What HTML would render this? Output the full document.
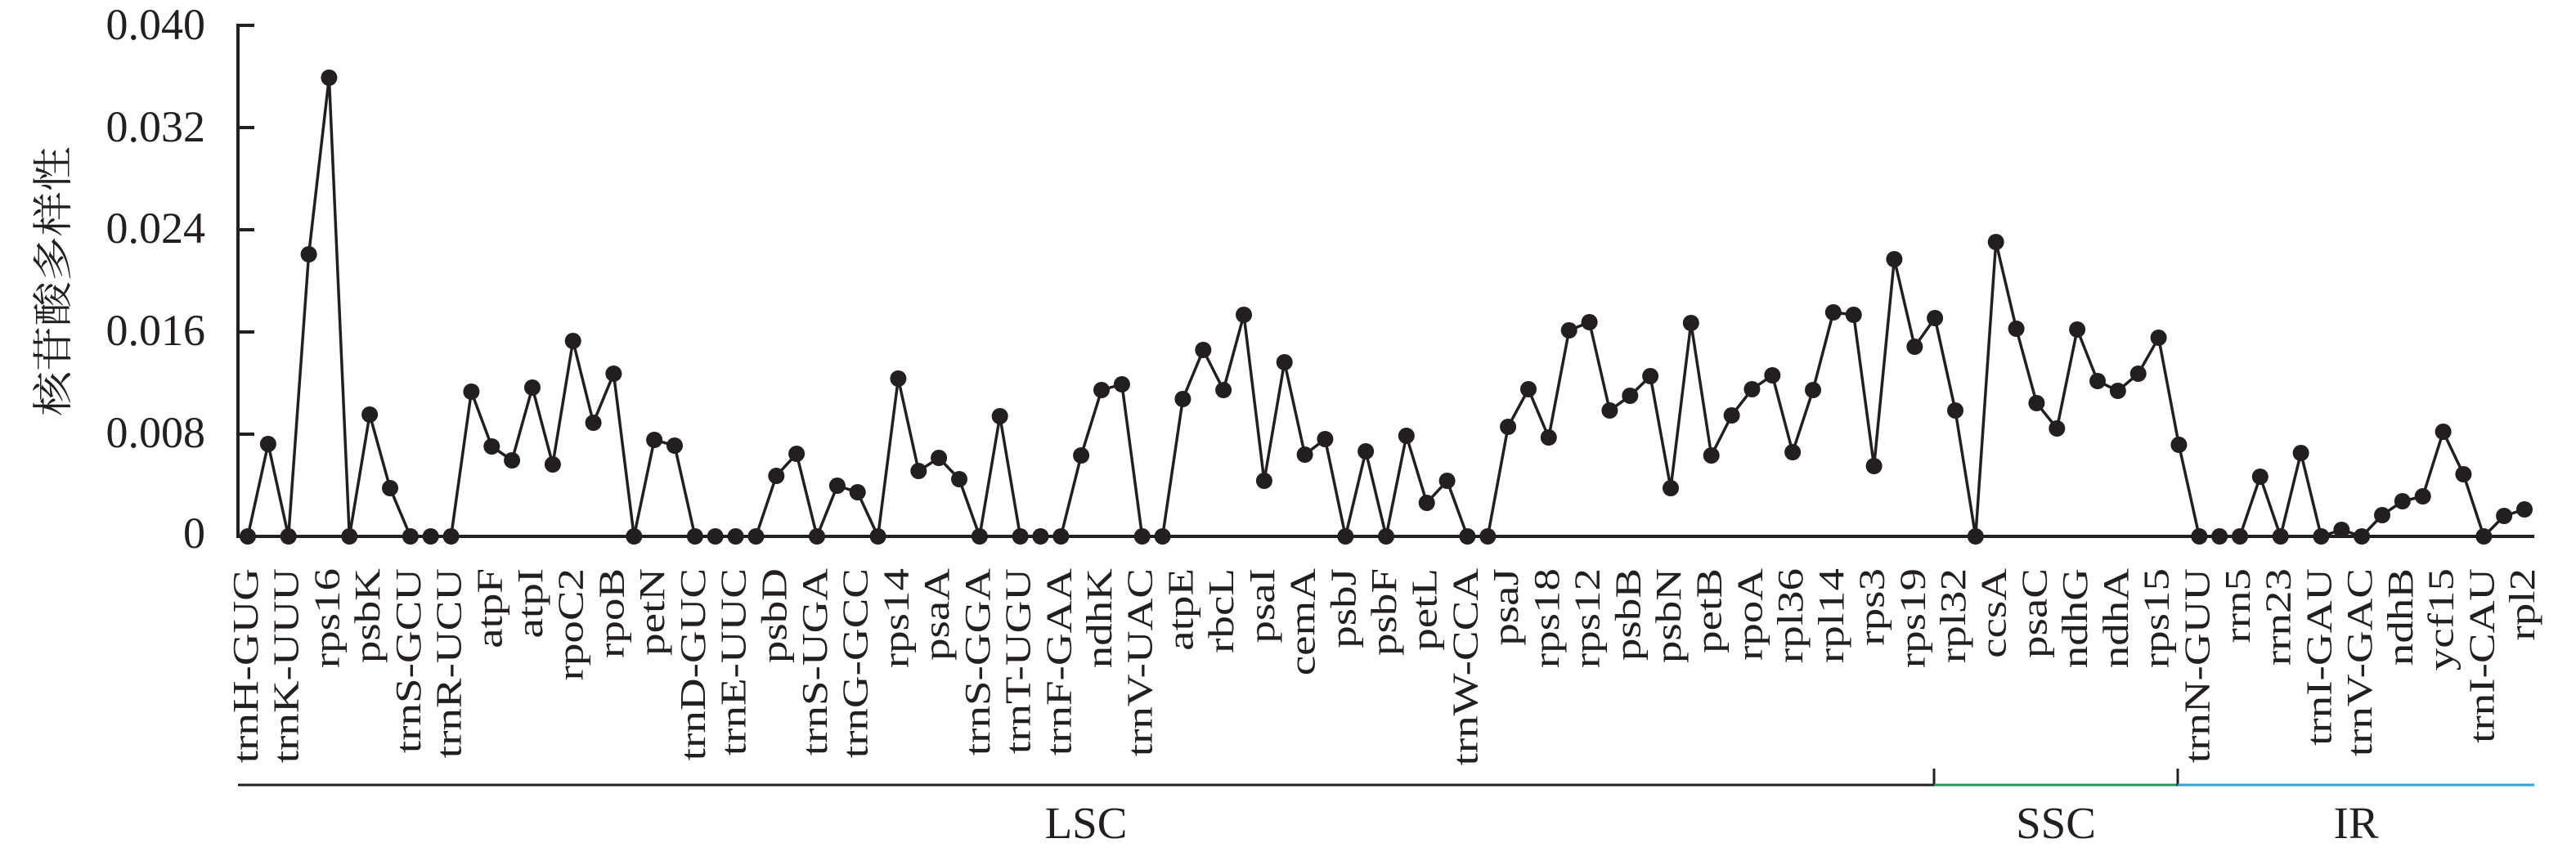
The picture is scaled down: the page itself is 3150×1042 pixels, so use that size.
<!DOCTYPE html>
<html><head><meta charset="utf-8"><style>html,body{margin:0;padding:0;background:#fff}svg{display:block}</style></head>
<body>
<svg width="3150" height="1042" viewBox="0 0 3150 1042" xmlns="http://www.w3.org/2000/svg">
<defs><marker id="m" markerUnits="userSpaceOnUse" markerWidth="24" markerHeight="24" refX="12" refY="12"><circle cx="12" cy="12" r="10" fill="#231f20"/></marker></defs>
<g stroke="#231f20" stroke-width="4" fill="none">
<line x1="291" y1="29" x2="291" y2="658"/>
<line x1="289" y1="656" x2="3099" y2="656"/>
<line x1="291" y1="31" x2="311" y2="31"/><line x1="291" y1="156" x2="311" y2="156"/><line x1="291" y1="281" x2="311" y2="281"/><line x1="291" y1="406" x2="311" y2="406"/><line x1="291" y1="531" x2="311" y2="531"/>
</g>
<g font-family="Liberation Serif, serif" font-size="54" fill="#231f20" text-anchor="end">
<text x="251" y="48">0.040</text><text x="251" y="173">0.032</text><text x="251" y="297">0.024</text><text x="251" y="422">0.016</text><text x="251" y="547">0.008</text><text x="251" y="670">0</text>
</g>
<text transform="translate(82,344) rotate(-90) scale(1,0.9)" font-family="Noto Serif CJK SC, Noto Sans CJK SC, serif" font-size="55" fill="#231f20" text-anchor="middle">核苷酸多样性</text>
<polyline stroke="#231f20" stroke-width="3.5" fill="none" marker-start="url(#m)" marker-mid="url(#m)" marker-end="url(#m)" points="303,656 327.9,543 352.7,656 377.6,311 402.4,95 427.3,656 452.1,507 477,597 501.9,656 526.7,656 551.6,656 576.4,479 601.3,546 626.1,563 651,474 675.9,568 700.7,417 725.6,517 750.4,457 775.3,656 800.1,538 825,545 849.9,656 874.7,656 899.6,656 924.4,656 949.3,582 974.1,555 999,656 1023.9,594 1048.7,602 1073.6,656 1098.4,463 1123.3,576 1148.1,560 1173,586 1197.9,656 1222.7,509 1247.6,656 1272.4,656 1297.3,656 1322.1,557 1347,477 1371.9,470 1396.7,656 1421.6,656 1446.4,488 1471.3,428 1496.1,477 1521,385 1545.9,588 1570.7,443 1595.6,556 1620.4,537 1645.3,656 1670.1,552 1695,656 1719.8,533 1744.7,615 1769.6,588 1794.4,656 1819.3,656 1844.1,522 1869,476 1893.8,535 1918.7,404 1943.6,394 1968.4,502 1993.3,484 2018.1,460 2043,597 2067.8,395 2092.7,557 2117.6,508 2142.4,476 2167.3,459 2192.1,553 2217,477 2241.8,382 2266.7,385 2291.6,570 2316.4,317 2341.3,424 2366.1,389 2391,502 2415.8,656 2440.7,296 2465.6,402 2490.4,493 2515.3,524 2540.1,403 2565,466 2589.8,478 2614.7,457 2639.6,413 2664.4,544 2689.3,656 2714.1,656 2739,656 2763.8,583 2788.7,656 2813.6,554 2838.4,656 2863.3,648 2888.1,656 2913,630 2937.8,613 2962.7,607 2987.6,528 3012.4,580 3037.3,656 3062.1,631 3087,623"/>
<g font-family="Liberation Serif, serif" font-size="55" fill="#231f20" text-anchor="end">
<text transform="translate(315,695) rotate(-90) scale(1,0.8)">trnH-GUG</text>
<text transform="translate(364.7,695) rotate(-90) scale(1,0.8)">trnK-UUU</text>
<text transform="translate(414.4,695) rotate(-90) scale(1,0.8)">rps16</text>
<text transform="translate(464.1,695) rotate(-90) scale(1,0.8)">psbK</text>
<text transform="translate(513.9,695) rotate(-90) scale(1,0.8)">trnS-GCU</text>
<text transform="translate(563.6,695) rotate(-90) scale(1,0.8)">trnR-UCU</text>
<text transform="translate(613.3,695) rotate(-90) scale(1,0.8)">atpF</text>
<text transform="translate(663,695) rotate(-90) scale(1,0.8)">atpI</text>
<text transform="translate(712.7,695) rotate(-90) scale(1,0.8)">rpoC2</text>
<text transform="translate(762.4,695) rotate(-90) scale(1,0.8)">rpoB</text>
<text transform="translate(812.1,695) rotate(-90) scale(1,0.8)">petN</text>
<text transform="translate(861.9,695) rotate(-90) scale(1,0.8)">trnD-GUC</text>
<text transform="translate(911.6,695) rotate(-90) scale(1,0.8)">trnE-UUC</text>
<text transform="translate(961.3,695) rotate(-90) scale(1,0.8)">psbD</text>
<text transform="translate(1011,695) rotate(-90) scale(1,0.8)">trnS-UGA</text>
<text transform="translate(1060.7,695) rotate(-90) scale(1,0.8)">trnG-GCC</text>
<text transform="translate(1110.4,695) rotate(-90) scale(1,0.8)">rps14</text>
<text transform="translate(1160.1,695) rotate(-90) scale(1,0.8)">psaA</text>
<text transform="translate(1209.9,695) rotate(-90) scale(1,0.8)">trnS-GGA</text>
<text transform="translate(1259.6,695) rotate(-90) scale(1,0.8)">trnT-UGU</text>
<text transform="translate(1309.3,695) rotate(-90) scale(1,0.8)">trnF-GAA</text>
<text transform="translate(1359,695) rotate(-90) scale(1,0.8)">ndhK</text>
<text transform="translate(1408.7,695) rotate(-90) scale(1,0.8)">trnV-UAC</text>
<text transform="translate(1458.4,695) rotate(-90) scale(1,0.8)">atpE</text>
<text transform="translate(1508.1,695) rotate(-90) scale(1,0.8)">rbcL</text>
<text transform="translate(1557.9,695) rotate(-90) scale(1,0.8)">psaI</text>
<text transform="translate(1607.6,695) rotate(-90) scale(1,0.8)">cemA</text>
<text transform="translate(1657.3,695) rotate(-90) scale(1,0.8)">psbJ</text>
<text transform="translate(1707,695) rotate(-90) scale(1,0.8)">psbF</text>
<text transform="translate(1756.7,695) rotate(-90) scale(1,0.8)">petL</text>
<text transform="translate(1806.4,695) rotate(-90) scale(1,0.8)">trnW-CCA</text>
<text transform="translate(1856.1,695) rotate(-90) scale(1,0.8)">psaJ</text>
<text transform="translate(1905.8,695) rotate(-90) scale(1,0.8)">rps18</text>
<text transform="translate(1955.6,695) rotate(-90) scale(1,0.8)">rps12</text>
<text transform="translate(2005.3,695) rotate(-90) scale(1,0.8)">psbB</text>
<text transform="translate(2055,695) rotate(-90) scale(1,0.8)">psbN</text>
<text transform="translate(2104.7,695) rotate(-90) scale(1,0.8)">petB</text>
<text transform="translate(2154.4,695) rotate(-90) scale(1,0.8)">rpoA</text>
<text transform="translate(2204.1,695) rotate(-90) scale(1,0.8)">rpl36</text>
<text transform="translate(2253.8,695) rotate(-90) scale(1,0.8)">rpl14</text>
<text transform="translate(2303.6,695) rotate(-90) scale(1,0.8)">rps3</text>
<text transform="translate(2353.3,695) rotate(-90) scale(1,0.8)">rps19</text>
<text transform="translate(2403,695) rotate(-90) scale(1,0.8)">rpl32</text>
<text transform="translate(2452.7,695) rotate(-90) scale(1,0.8)">ccsA</text>
<text transform="translate(2502.4,695) rotate(-90) scale(1,0.8)">psaC</text>
<text transform="translate(2552.1,695) rotate(-90) scale(1,0.8)">ndhG</text>
<text transform="translate(2601.8,695) rotate(-90) scale(1,0.8)">ndhA</text>
<text transform="translate(2651.6,695) rotate(-90) scale(1,0.8)">rps15</text>
<text transform="translate(2701.3,695) rotate(-90) scale(1,0.8)">trnN-GUU</text>
<text transform="translate(2751,695) rotate(-90) scale(1,0.8)">rrn5</text>
<text transform="translate(2800.7,695) rotate(-90) scale(1,0.8)">rrn23</text>
<text transform="translate(2850.4,695) rotate(-90) scale(1,0.8)">trnI-GAU</text>
<text transform="translate(2900.1,695) rotate(-90) scale(1,0.8)">trnV-GAC</text>
<text transform="translate(2949.8,695) rotate(-90) scale(1,0.8)">ndhB</text>
<text transform="translate(2999.6,695) rotate(-90) scale(1,0.8)">ycf15</text>
<text transform="translate(3049.3,695) rotate(-90) scale(1,0.8)">trnI-CAU</text>
<text transform="translate(3099,695) rotate(-90) scale(1,0.8)">rpl2</text>
</g>
<g stroke-width="3" fill="none">
<line x1="291" y1="960" x2="2365" y2="960" stroke="#231f20"/>
<line x1="2365" y1="940" x2="2365" y2="961" stroke="#231f20"/>
<line x1="2365" y1="960" x2="2663" y2="960" stroke="#1f9a55"/>
<line x1="2663" y1="940" x2="2663" y2="961" stroke="#231f20"/>
<line x1="2663" y1="960" x2="3099" y2="960" stroke="#2aa6d8"/>
</g>
<g font-family="Liberation Serif, serif" font-size="55" fill="#231f20" text-anchor="middle">
<text x="1328" y="1025">LSC</text>
<text x="2514" y="1025">SSC</text>
<text x="2881" y="1025">IR</text>
</g>
</svg>
</body></html>
